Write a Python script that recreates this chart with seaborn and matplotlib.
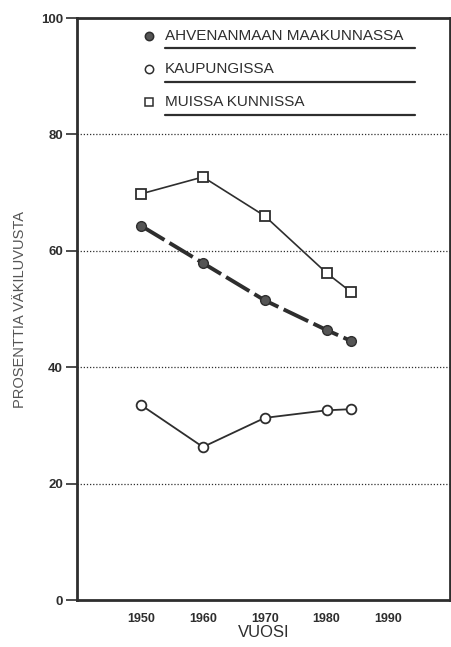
import numpy as np
import pandas as pd
import matplotlib
matplotlib.use('Agg')
import matplotlib.pyplot as plt
import seaborn as sns

years = [1950, 1960, 1970, 1980, 1984]
ahvenanmaa = [64.3, 57.9, 51.5, 46.4, 44.5]
kaupungissa = [33.5, 26.3, 31.3, 32.6, 32.8]
muissa = [69.8, 72.7, 66.0, 56.2, 52.9]

labels = ['AHVENANMAAN MAAKUNNASSA', 'KAUPUNGISSA', 'MUISSA KUNNISSA']
x_ticks = [1950, 1960, 1970, 1980, 1990]
y_ticks = [0, 20, 40, 60, 80, 100]

sns.set_style('white')
plt.rcParams['font.family'] = ['Liberation Sans', 'DejaVu Sans']

ink = '#2e2e2e'
fig = plt.figure(figsize=(4.52, 6.47), dpi=100)
ax = fig.add_axes([0.170, 0.0726, 0.826, 0.8994])

df = pd.DataFrame({'year': years, 'a': ahvenanmaa, 'k': kaupungissa, 'm': muissa})

# grid lines
for g in [20, 40, 60, 80]:
    ax.axhline(g, color=ink, lw=0.9, ls=(0, (1, 1.5)), zorder=1)

sns.lineplot(data=df, x='year', y='m', ax=ax, color=ink, lw=1.2,
             marker='s', markersize=7, markerfacecolor='white',
             markeredgecolor=ink, markeredgewidth=1.3, zorder=3)
sns.lineplot(data=df, x='year', y='a', ax=ax, color=ink, lw=2.8,
             linestyle=(0, (7, 1.5)), marker='o', markersize=7,
             markerfacecolor='#555555', markeredgecolor=ink,
             markeredgewidth=1.0, zorder=3)
sns.lineplot(data=df, x='year', y='k', ax=ax, color=ink, lw=1.3,
             marker='o', markersize=7, markerfacecolor='white',
             markeredgecolor=ink, markeredgewidth=1.3, zorder=3)

ax.set_xlim(1939.6, 2000)
ax.set_ylim(0, 100)
ax.set_xticks(x_ticks)
ax.set_yticks(y_ticks)
ax.tick_params(axis='x', length=0, pad=9, labelsize=9, colors=ink)
ax.tick_params(axis='y', length=8, width=1.2, direction='out', pad=2,
               labelsize=9.5, colors=ink, left=True)
for lab in ax.get_xticklabels() + ax.get_yticklabels():
    lab.set_fontweight('bold')
for s in ax.spines.values():
    s.set_linewidth(2.0)
    s.set_color(ink)

ax.set_xlabel('VUOSI', fontsize=12, color=ink, labelpad=0)
ax.set_ylabel('PROSENTTIA VÄKILUVUSTA', fontsize=10.5, color='#555555', labelpad=10)

# legend with underlined labels
styles = [dict(marker='o', mfc='#555555', ms=6),
          dict(marker='o', mfc='white', ms=6),
          dict(marker='s', mfc='white', ms=6)]
rows = [0.969, 0.912, 0.855]
for lab, st, ry in zip(labels, styles, rows):
    ax.plot([0.194], [ry], transform=ax.transAxes, ls='none', mec=ink,
            mew=1.1, color=ink, clip_on=False, **st)
    ax.text(0.236, ry, lab, transform=ax.transAxes, fontsize=11,
            color=ink, va='center', ha='left')
    ax.plot([0.236, 0.905], [ry - 0.021, ry - 0.021], transform=ax.transAxes,
            color=ink, lw=1.6)

fig.savefig('out.png', dpi=100)
